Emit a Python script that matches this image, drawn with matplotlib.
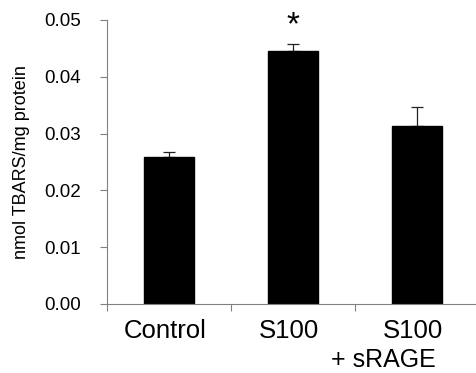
import numpy as np
import matplotlib
matplotlib.use("Agg")
import matplotlib.pyplot as plt
import matplotlib.transforms as mtransforms

plt.rcParams['font.family'] = ['Liberation Sans', 'DejaVu Sans']

# bar values
groups = ["Control", "S100", "S100"]
means = [0.0259, 0.0446, 0.0313]
sems = [0.0008, 0.0012, 0.0033]
yticks = [0.00, 0.01, 0.02, 0.03, 0.04, 0.05]

fig = plt.figure(figsize=(4.76, 3.73), dpi=100)
ax = fig.add_axes([107/476, 69/373, 369/476, 284/373])

x = np.arange(len(groups))
ax.bar(x, means, width=0.4, color="black", edgecolor="black", zorder=2)
ax.errorbar(x, means, yerr=[np.zeros(len(sems)), sems], fmt="none",
            ecolor="#222222", elinewidth=0.9, capsize=4, capthick=0.9, zorder=1)

ax.set_xlim(-0.5, 2.476)
ax.set_ylim(0, 0.05)
ax.set_yticks(yticks)
ax.set_yticklabels(["%.2f" % v for v in yticks], fontsize=13.5)
ax.set_xticks(x)
ax.set_xticklabels(groups, fontsize=18.5)
ax.set_xticks([-0.5, 0.5, 1.5], minor=True)
ax.tick_params(axis="x", which="major", length=0, pad=11)
ax.tick_params(axis="x", which="minor", length=5, color="#808080", width=0.8)
ax.tick_params(axis="y", length=5, color="#808080", width=0.8, pad=14)

# category labels sit a touch left of the bar centres in the original
shift = mtransforms.ScaledTranslation(-0.04, 0, fig.dpi_scale_trans)
for lab in ax.get_xticklabels():
    lab.set_transform(lab.get_transform() + shift)

# second line of the third category label, offset left as in the original
ax.text(1.73, -0.0099, "+ sRAGE", fontsize=18, ha="center", va="center")

for s in ["top", "right"]:
    ax.spines[s].set_visible(False)
for s in ["left", "bottom"]:
    ax.spines[s].set_color("#808080")
    ax.spines[s].set_linewidth(0.8)

ax.set_ylabel("nmol TBARS/mg protein", fontsize=13)
ax.yaxis.set_label_coords(-0.21, 0.5)

ax.text(1, 0.049, "*", fontsize=24, ha="center", va="center")

fig.savefig("out.png", dpi=100)
